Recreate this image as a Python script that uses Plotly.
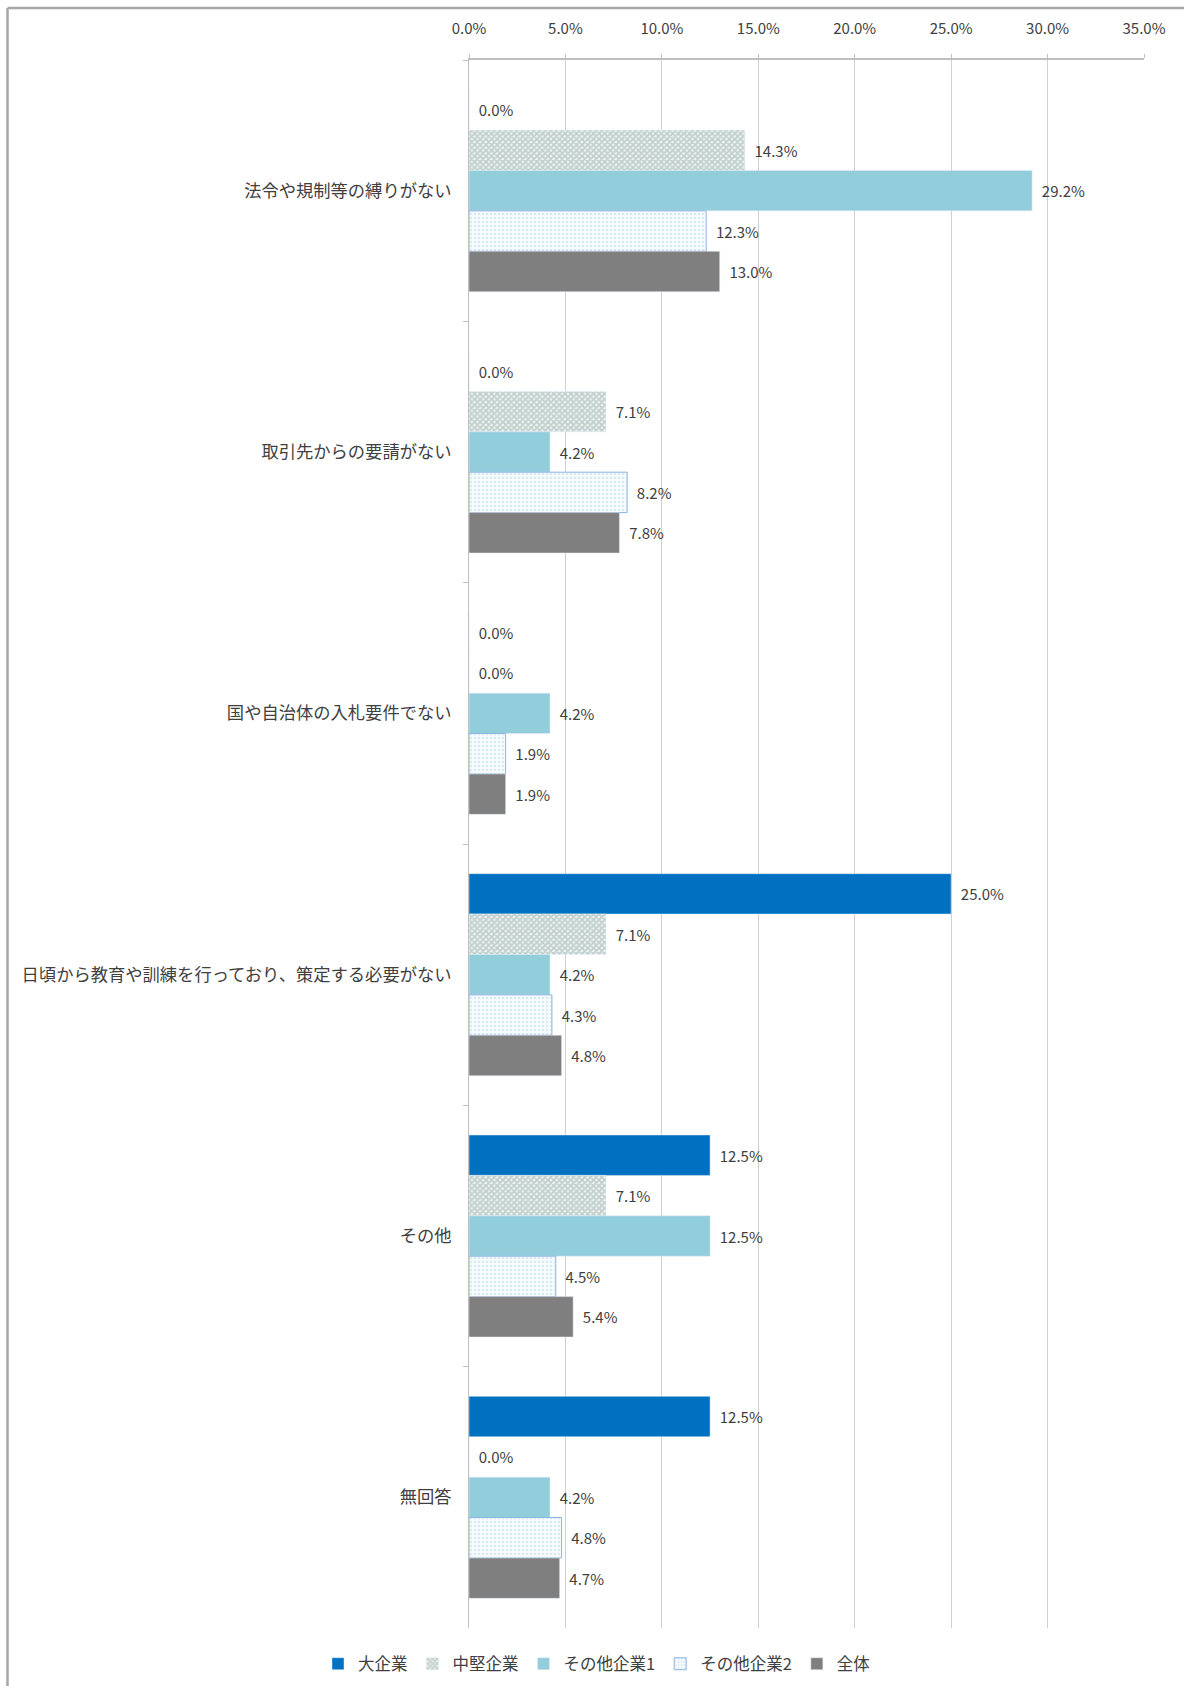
import plotly.graph_objects as go

# Reasons given for not preparing a plan (share of respondents, %)
categories = [
    "法令や規制等の縛りがない",
    "取引先からの要請がない",
    "国や自治体の入札要件でない",
    "日頃から教育や訓練を行っており、策定する必要がない",
    "その他",
    "無回答",
]

series_names = ["大企業", "中堅企業", "その他企業1", "その他企業2", "全体"]

large = [0.0, 0.0, 0.0, 25.0, 12.5, 12.5]
midsize = [14.3, 7.1, 0.0, 7.1, 7.1, 0.0]
other1 = [29.2, 4.2, 4.2, 4.2, 12.5, 4.2]
other2 = [12.3, 8.2, 1.9, 4.3, 4.5, 4.8]
total = [13.0, 7.8, 1.9, 4.8, 5.4, 4.7]

x_ticks = [0, 5, 10, 15, 20, 25, 30, 35]
x_tick_labels = ["0.0%", "5.0%", "10.0%", "15.0%", "20.0%", "25.0%", "30.0%", "35.0%"]

FONT = "Noto Sans CJK JP, sans-serif"
TEXT_COLOR = "#404040"

styles = [
    dict(color="#0070C0"),
    dict(color="#E8EFED",
         pattern=dict(shape="x", fgcolor="#8FA9A2", bgcolor="#EEF3F2", size=4, solidity=0.65)),
    dict(color="#92CDDC"),
    dict(color="#F4FAFD",
         pattern=dict(shape=".", fgcolor="#B4DAEA", bgcolor="#F7FBFD", size=4, solidity=0.3),
         line=dict(color="#8DB3E2", width=1)),
    dict(color="#7F7F7F"),
]

fig = go.Figure()
for name, values, style in zip(series_names, [large, midsize, other1, other2, total], styles):
    fig.add_trace(go.Bar(
        name=name,
        y=categories,
        x=values,
        orientation="h",
        marker=style,
        texttemplate="\u00a0\u00a0%{x:.1f}%",
        textposition="outside",
        textfont=dict(size=15, color=TEXT_COLOR, family=FONT),
        cliponaxis=False,
    ))

# plot area in pixels
L, R, T, B = 469, 40, 60, 58
W, H = 1184, 1686
pw, ph = W - L - R, H - T - B

def px_x(px):
    return (px - L) / pw

def px_y(py):
    return (H - B - py) / ph

fig.update_layout(
    width=W,
    height=H,
    margin=dict(l=L, r=R, t=T, b=B, autoexpand=False),
    paper_bgcolor="white",
    plot_bgcolor="white",
    font=dict(family=FONT, color=TEXT_COLOR),
    barmode="group",
    bargap=0.227,
    bargroupgap=0,
    showlegend=True,
    legend=dict(
        orientation="h",
        x=px_x(597),
        xanchor="center",
        y=px_y(1664),
        yanchor="middle",
        font=dict(size=16.5, color=TEXT_COLOR, family=FONT),
        traceorder="normal",
        itemwidth=30,
    ),
    xaxis=dict(
        side="top",
        range=[0, 35],
        tickvals=x_ticks,
        ticktext=x_tick_labels,
        tickfont=dict(size=15, color=TEXT_COLOR),
        showgrid=True,
        gridcolor="#D0D0D0",
        gridwidth=1,
        showline=True,
        linecolor="#BFBFBF",
        linewidth=1.5,
        ticks="outside",
        ticklen=4,
        tickcolor="#BFBFBF",
        ticklabelstandoff=14,
        zeroline=False,
        fixedrange=True,
    ),
    yaxis=dict(
        autorange="reversed",
        tickfont=dict(size=17.3, color=TEXT_COLOR),
        showline=True,
        linecolor="#BFBFBF",
        linewidth=1,
        ticks="outside",
        tickson="boundaries",
        ticklen=5,
        tickcolor="#BFBFBF",
        ticklabelstandoff=13,
        showgrid=False,
    ),
    shapes=[
        # outer frame (left and top edges)
        dict(type="line", xref="paper", yref="paper",
             x0=px_x(7.5), x1=px_x(7.5), y0=px_y(8), y1=px_y(1700),
             line=dict(color="#A6A6A6", width=2.5)),
        dict(type="line", xref="paper", yref="paper",
             x0=px_x(7.5), x1=px_x(1190), y0=px_y(8), y1=px_y(8),
             line=dict(color="#A6A6A6", width=2.5)),
    ],
)

fig.write_html("out.html")
